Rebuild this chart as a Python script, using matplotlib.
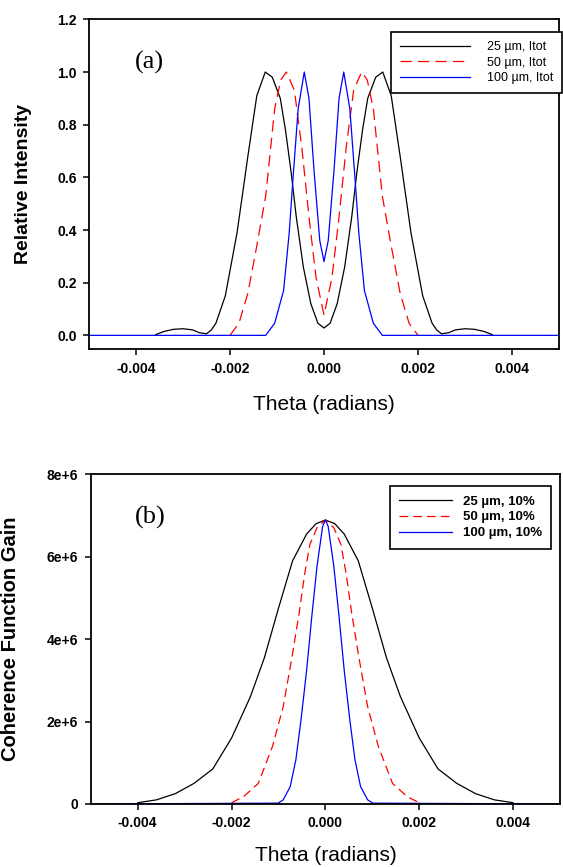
import numpy as np
import matplotlib
matplotlib.use("Agg")
import matplotlib.pyplot as plt

# -----------------------------
# DATA
# -----------------------------

# (a) relative intensity, theta in units of 1e-3 rad
theta_a_25 = [-3.6, -3.55, -3.4, -3.2, -3.0, -2.8, -2.65, -2.5, -2.4, -2.3, -2.1,
              -1.85, -1.62, -1.43, -1.25, -1.1, -0.93, -0.82, -0.7, -0.59, -0.44,
              -0.28, -0.13, 0.0, 0.13, 0.28, 0.44, 0.59, 0.7, 0.82, 0.93, 1.1,
              1.25, 1.43, 1.62, 1.85, 2.1, 2.3, 2.4, 2.5, 2.65, 2.8, 3.0, 3.2,
              3.4, 3.55, 3.6]
inten_25 = [0.0, 0.005, 0.015, 0.023, 0.025, 0.021, 0.01, 0.006, 0.02, 0.046, 0.15,
            0.39, 0.68, 0.91, 1.0, 0.98, 0.90, 0.78, 0.62, 0.45, 0.26,
            0.12, 0.046, 0.028, 0.046, 0.12, 0.26, 0.45, 0.62, 0.78, 0.90, 0.98,
            1.0, 0.91, 0.68, 0.39, 0.15, 0.046, 0.02, 0.006, 0.01, 0.021, 0.025, 0.023,
            0.015, 0.005, 0.0]

theta_a_50 = [-2.0, -1.81, -1.62, -1.43, -1.24, -1.05, -0.92, -0.8, -0.63, -0.47,
              -0.32, -0.17, 0.0, 0.17, 0.32, 0.47, 0.63, 0.8, 0.92, 1.05, 1.24,
              1.43, 1.62, 1.81, 2.0]
inten_50 = [0.0, 0.046, 0.16, 0.34, 0.53, 0.86, 0.97, 1.0, 0.93, 0.71,
            0.45, 0.22, 0.077, 0.22, 0.45, 0.71, 0.93, 1.0, 0.97, 0.86, 0.53,
            0.34, 0.16, 0.046, 0.0]

theta_a_100 = [-5.0, -1.24, -1.05, -0.86, -0.74, -0.67, -0.55, -0.42, -0.32, -0.21,
               -0.09, 0.0, 0.09, 0.21, 0.32, 0.42, 0.55, 0.67, 0.74, 0.86, 1.05,
               1.24, 5.0]
inten_100 = [0.0, 0.0, 0.046, 0.17, 0.39, 0.57, 0.86, 1.0, 0.90, 0.62,
             0.36, 0.28, 0.36, 0.62, 0.90, 1.0, 0.86, 0.57, 0.39, 0.17, 0.046,
             0.0, 0.0]

# (b) coherence function gain (units of 1e6), theta in units of 1e-3 rad
theta_b_25 = [-4.0, -3.6, -3.2, -2.8, -2.4, -2.0, -1.6, -1.3, -1.0, -0.7, -0.4,
              -0.2, 0.0, 0.2, 0.4, 0.7, 1.0, 1.3, 1.6, 2.0, 2.4, 2.8, 3.2, 3.6, 4.0]
gain_25 = [0.03, 0.1, 0.25, 0.5, 0.85, 1.6, 2.6, 3.55, 4.75, 5.9, 6.55,
           6.8, 6.89, 6.8, 6.55, 5.9, 4.75, 3.55, 2.6, 1.6, 0.85, 0.5, 0.25, 0.1, 0.03]

theta_b_50 = [-2.0, -1.74, -1.43, -1.13, -0.9, -0.71, -0.56, -0.44, -0.33, -0.18,
              0.0, 0.18, 0.33, 0.44, 0.56, 0.71, 0.9, 1.13, 1.43, 1.74, 2.0]
gain_50 = [0.03, 0.18, 0.5, 1.39, 2.36, 3.58, 4.63, 5.6, 6.3, 6.7,
           6.89, 6.7, 6.3, 5.6, 4.63, 3.58, 2.36, 1.39, 0.5, 0.18, 0.03]

theta_b_100 = [-5.0, -1.01, -0.9, -0.75, -0.63, -0.52, -0.4, -0.29, -0.18, -0.06,
               0.0, 0.06, 0.18, 0.29, 0.4, 0.52, 0.63, 0.75, 0.9, 1.01, 5.0]
gain_100 = [0.0, 0.02, 0.1, 0.42, 1.07, 2.04, 3.25, 4.55, 5.76, 6.73,
            6.89, 6.73, 5.76, 4.55, 3.25, 2.04, 1.07, 0.42, 0.1, 0.02, 0.0]

labels_a = ["25 \u00b5m, Itot", "50 \u00b5m, Itot", "100 \u00b5m, Itot"]
labels_b = ["25 \u00b5m, 10%", "50 \u00b5m, 10%", "100 \u00b5m, 10%"]

x_ticks = [-0.004, -0.002, 0.0, 0.002, 0.004]
x_ticklabels = ["-0.004", "-0.002", "0.000", "0.002", "0.004"]
ya_ticks = [0.0, 0.2, 0.4, 0.6, 0.8, 1.0, 1.2]
ya_ticklabels = ["0.0", "0.2", "0.4", "0.6", "0.8", "1.0", "1.2"]
yb_ticks = [0, 2e6, 4e6, 6e6, 8e6]
yb_ticklabels = ["0", "2e+6", "4e+6", "6e+6", "8e+6"]

# -----------------------------
# FIGURE
# -----------------------------

plt.rcParams["font.family"] = ["Liberation Sans", "DejaVu Sans"]
plt.rcParams["axes.unicode_minus"] = False

fig = plt.figure(figsize=(5.63, 8.67), dpi=100)
ax_a = fig.add_axes([0.1581, 0.5971, 0.8348, 0.3806])
ax_b = fig.add_axes([0.1613, 0.0727, 0.8334, 0.3803])

lw = 0.9

ax_a.plot(np.array(theta_a_25) * 1e-3, inten_25, color="black", lw=lw, label=labels_a[0])
ax_a.plot(np.array(theta_a_50) * 1e-3, inten_50, color="red", lw=lw, linestyle=(0, (9, 5)), label=labels_a[1])
ax_a.plot(np.array(theta_a_100) * 1e-3, inten_100, color="blue", lw=lw, label=labels_a[2])

ax_b.plot(np.array(theta_b_25) * 1e-3, np.array(gain_25) * 1e6, color="black", lw=lw, label=labels_b[0])
ax_b.plot(np.array(theta_b_50) * 1e-3, np.array(gain_50) * 1e6, color="red", lw=lw, linestyle=(0, (7, 4)), label=labels_b[1])
ax_b.plot(np.array(theta_b_100) * 1e-3, np.array(gain_100) * 1e6, color="blue", lw=lw, label=labels_b[2])

ax_a.set_xlim(-0.005, 0.005)
ax_a.set_ylim(-0.053, 1.2)
ax_b.set_xlim(-0.005, 0.005)
ax_b.set_ylim(0, 8e6)

for ax in (ax_a, ax_b):
    for s in ax.spines.values():
        s.set_linewidth(1.3)
    ax.tick_params(direction="out", length=4, width=1.1, pad=5, top=False, right=False)
    ax.set_xticks(x_ticks)
    ax.set_xticklabels(x_ticklabels, fontsize=10, fontweight="bold")
    ax.set_xlabel("Theta (radians)", fontsize=15)

ax_a.set_yticks(ya_ticks)
ax_a.set_yticklabels(ya_ticklabels, fontsize=10, fontweight="bold")
ax_b.set_yticks(yb_ticks)
ax_b.set_yticklabels(yb_ticklabels, fontsize=10, fontweight="bold")

ax_a.set_ylabel("Relative Intensity", fontsize=14, fontweight="bold")
ax_b.set_ylabel("Coherence Function Gain", fontsize=14.5, fontweight="bold")
ax_a.yaxis.set_label_coords(-0.121, 0.5)
ax_b.yaxis.set_label_coords(-0.150, 0.5)
ax_a.xaxis.set_label_coords(0.5, -0.138)
ax_b.xaxis.set_label_coords(0.5, -0.128)

ax_a.text(0.128, 0.87, "(a)", transform=ax_a.transAxes, fontsize=19,
          family="Liberation Serif", ha="center", va="center")
ax_b.text(0.126, 0.87, "(b)", transform=ax_b.transAxes, fontsize=19,
          family="Liberation Serif", ha="center", va="center")

leg_a = ax_a.legend(loc="upper left", bbox_to_anchor=(0.6945, 0.9634), bbox_transform=fig.transFigure,
                    borderaxespad=0, fontsize=9, frameon=True, fancybox=False, framealpha=1,
                    edgecolor="black", handlelength=5.6, handletextpad=1.3, borderpad=0.75,
                    labelspacing=0.28)
leg_a.get_frame().set_linewidth(1.2)

leg_b = ax_b.legend(loc="upper left", bbox_to_anchor=(0.6927, 0.4394), bbox_transform=fig.transFigure,
                    borderaxespad=0, prop={"size": 9.5, "weight": "bold"}, frameon=True,
                    fancybox=False, framealpha=1, edgecolor="black", handlelength=4.0,
                    handletextpad=0.8, borderpad=0.7, labelspacing=0.28)
leg_b.get_frame().set_linewidth(1.2)

fig.savefig("out.png", dpi=100)
